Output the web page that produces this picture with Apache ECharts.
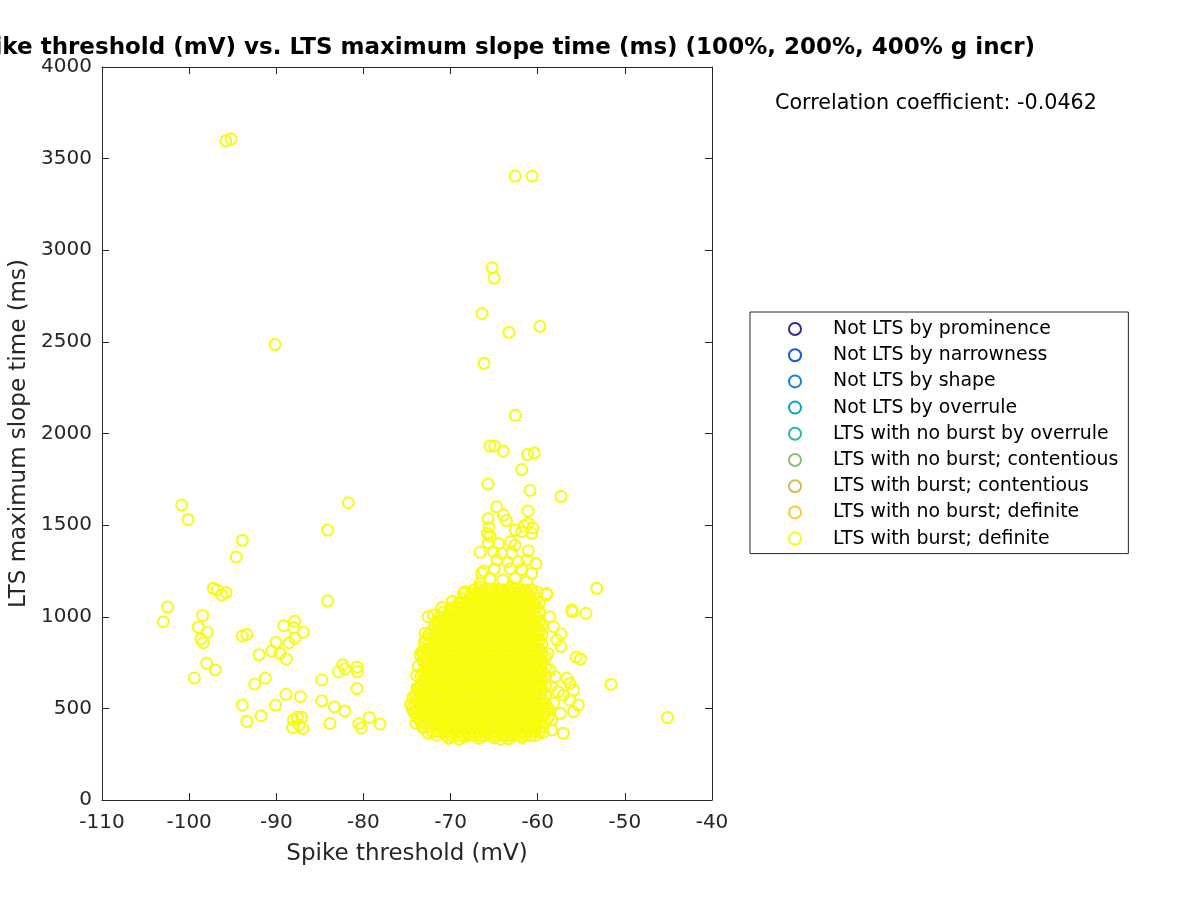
<!DOCTYPE html>
<html><head><meta charset="utf-8">
<script src="https://cdn.jsdelivr.net/npm/echarts@6/dist/echarts.min.js"></script>
<style>html,body{margin:0;padding:0;background:#fff}#c{width:1200px;height:900px}</style>
</head><body><div id="c"></div>
<script>
const titleText = 'Spike threshold (mV) vs. LTS maximum slope time (ms) (100%, 200%, 400% g incr)';
const xAxisName = 'Spike threshold (mV)';
const yAxisName = 'LTS maximum slope time (ms)';
const correlationText = 'Correlation coefficient: -0.0462';
const categoryNames = ['Not LTS by prominence','Not LTS by narrowness','Not LTS by shape','Not LTS by overrule','LTS with no burst by overrule','LTS with no burst; contentious','LTS with burst; contentious','LTS with no burst; definite','LTS with burst; definite'];
const categoryColors = ['#352A87','#0F5CDD','#1481D6','#06A4CA','#2EB7A4','#87BF77','#D1BB59','#FEC832','#F9FB0E'];
const xTickValues = [-110,-100,-90,-80,-70,-60,-50,-40];
const yTickValues = [0,500,1000,1500,2000,2500,3000,3500,4000];

// scattered points left of the main cluster
const farLeftPoints = [[-95.8,3597],[-95.2,3607],[-90.15,2485],[-100.86,1610],[-100.13,1530],[-93.9,1417],[-94.6,1326],[-97.23,1155],[-96.77,1146],[-96.27,1119],[-95.77,1133],[-81.73,1622],[-84.11,1473],[-102.47,1053],[-102.96,973],[-84.11,1087],[-98.45,1007],[-98.95,943],[-97.92,915],[-98.65,879],[-98.37,858],[-93.9,895],[-93.39,903],[-89.15,951],[-87.89,975],[-87.97,940],[-86.9,915],[-87.85,883],[-88.54,858],[-90.03,860],[-90.53,813],[-89.57,800],[-88.85,769],[-91.97,793],[-97.99,746],[-97.0,710],[-99.4,666],[-92.48,633],[-91.26,666],[-93.9,518],[-93.39,429],[-91.75,460],[-90.08,518],[-88.89,577],[-87.24,564],[-88.05,437],[-87.59,451],[-87.09,451],[-88.12,395],[-86.97,391],[-87.39,409],[-84.79,655],[-84.79,541],[-83.34,508],[-83.84,417],[-82.15,486],[-82.87,700],[-82.38,737],[-82.11,715],[-80.75,725],[-80.70,700],[-80.75,608],[-80.54,417],[-80.24,393],[-79.33,450],[-78.1,415]];

// points above the main cluster
const upperPoints = [[-62.6,3405],[-60.65,3405],[-65.24,2905],[-65.0,2848],[-66.4,2655],[-63.3,2552],[-59.75,2585],[-66.15,2383],[-62.57,2099],[-65.47,1932],[-64.94,1932],[-63.98,1904],[-61.16,1885],[-60.4,1894],[-61.84,1803],[-65.7,1724],[-60.88,1689],[-57.33,1656],[-64.71,1600],[-61.11,1577],[-65.7,1536],[-63.94,1555],[-63.6,1525],[-61.57,1495],[-60.58,1485],[-61.1,1512],[-62.57,1473],[-65.6,1490],[-65.78,1455],[-65.47,1440],[-61.84,1464],[-60.69,1455],[-65.67,1403],[-64.5,1400],[-63.1,1410],[-62.6,1391],[-66.62,1352],[-65.1,1355],[-64.14,1346],[-62.98,1346],[-61.08,1360],[-61.26,1310],[-66.2,1250],[-65.0,1260],[-63.18,1262],[-61.84,1258],[-60.69,1237],[-66.62,1182],[-65.47,1209],[-62.6,1209],[-61.26,1191],[-64.0,1200],[-63.5,1300],[-64.7,1310],[-62.2,1300],[-60.2,1290],[-68.34,1137],[-69.11,1073],[-67.39,1091],[-65.85,1109],[-64.33,1146],[-62.98,1164],[-60.12,1137],[-58.97,1127]];

// rings along the edges of the main cluster
const edgePoints = [[-71.98,1010],[-71.29,973],[-72.93,910],[-73.31,809],[-73.5,791],[-73.13,764],[-71.98,673],[-73.88,609],[-73.5,591],[-74.27,482],[-73.88,455],[-72.55,364],[-68.52,1127],[-66.42,1237],[-68.9,1073],[-70.06,1037],[-66.62,1164],[-74.6,520],[-74.3,560],[-73.9,680],[-73.7,730],[-74.0,420],[-73.2,395],[-71.6,355],[-72.6,1000],[-71.0,1050],[-69.8,1085],[-73.0,860],[-70.2,338],[-68.5,344],[-66.7,336],[-65.0,340],[-63.4,335],[-61.8,341],[-60.3,352],[-59.4,368],[-69.0,333],[-64.2,332]];

// points right of the main cluster
const rightPoints = [[-58.2,946],[-57.8,873],[-58.6,709],[-58.0,673],[-57.65,591],[-56.3,546],[-58.2,528],[-57.4,473],[-58.4,437],[-58.4,382],[-57.06,364],[-56.67,664],[-56.3,636],[-55.9,600],[-57.06,573],[-55.34,518],[-55.9,482],[-57.33,906],[-57.33,837],[-55.6,781],[-55.1,769],[-56.09,1037],[-56.03,1027],[-54.46,1019],[-53.23,1155],[-58.98,1121],[-51.59,631],[-45.12,450],[-58.6,1000],[-58.8,800],[-58.5,620]];

// dense core of the cluster: each row = [slope time, thresholds...]
const clusterRows = [
[352,-70.5,-69.9,-69.2,-68.6,-67.9,-67.3,-66.6,-66.0,-65.3,-64.7,-64.0,-63.4,-62.7,-62.1,-61.4,-60.8],
[374,-72.1,-71.5,-70.8,-70.2,-69.5,-68.9,-68.2,-67.6,-66.9,-66.3,-65.6,-65.0,-64.3,-63.7,-63.0,-62.4,-61.7,-61.1,-60.4,-59.8],
[401,-73.1,-72.5,-71.8,-71.2,-70.5,-69.9,-69.2,-68.6,-67.9,-67.3,-66.6,-66.0,-65.3,-64.7,-64.0,-63.4,-62.7,-62.1,-61.4,-60.8,-60.1,-59.5],
[423,-73.4,-72.8,-72.1,-71.5,-70.8,-70.2,-69.5,-68.9,-68.2,-67.6,-66.9,-66.3,-65.6,-65.0,-64.3,-63.7,-63.0,-62.4,-61.7,-61.1,-60.4,-59.8,-59.1],
[452,-73.8,-73.1,-72.5,-71.8,-71.2,-70.5,-69.9,-69.2,-68.6,-67.9,-67.3,-66.6,-66.0,-65.3,-64.7,-64.0,-63.4,-62.7,-62.1,-61.4,-60.8,-60.1,-59.5,-58.8],
[476,-74.1,-73.4,-72.8,-72.1,-71.5,-70.8,-70.2,-69.5,-68.9,-68.2,-67.6,-66.9,-66.3,-65.6,-65.0,-64.3,-63.7,-63.0,-62.4,-61.7,-61.1,-60.4,-59.8,-59.1],
[499,-74.4,-73.8,-73.1,-72.5,-71.8,-71.2,-70.5,-69.9,-69.2,-68.6,-67.9,-67.3,-66.6,-66.0,-65.3,-64.7,-64.0,-63.4,-62.7,-62.1,-61.4,-60.8,-60.1,-59.5,-58.8],
[527,-74.1,-73.4,-72.8,-72.1,-71.5,-70.8,-70.2,-69.5,-68.9,-68.2,-67.6,-66.9,-66.3,-65.6,-65.0,-64.3,-63.7,-63.0,-62.4,-61.7,-61.1,-60.4,-59.8,-59.1],
[548,-73.8,-73.1,-72.5,-71.8,-71.2,-70.5,-69.9,-69.2,-68.6,-67.9,-67.3,-66.6,-66.0,-65.3,-64.7,-64.0,-63.4,-62.7,-62.1,-61.4,-60.8,-60.1,-59.5],
[575,-74.0,-73.4,-72.8,-72.1,-71.5,-70.8,-70.2,-69.5,-68.9,-68.2,-67.6,-66.9,-66.3,-65.6,-65.0,-64.3,-63.7,-63.0,-62.4,-61.7,-61.1,-60.4,-59.8,-59.1],
[603,-73.8,-73.1,-72.5,-71.8,-71.2,-70.5,-69.9,-69.2,-68.6,-67.9,-67.3,-66.6,-66.0,-65.3,-64.7,-64.0,-63.4,-62.7,-62.1,-61.4,-60.8,-60.1,-59.5],
[624,-73.4,-72.8,-72.1,-71.5,-70.8,-70.2,-69.5,-68.9,-68.2,-67.6,-66.9,-66.3,-65.6,-65.0,-64.3,-63.7,-63.0,-62.4,-61.7,-61.1,-60.4,-59.8,-59.1],
[651,-73.1,-72.5,-71.8,-71.2,-70.5,-69.9,-69.2,-68.6,-67.9,-67.3,-66.6,-66.0,-65.3,-64.7,-64.0,-63.4,-62.7,-62.1,-61.4,-60.8,-60.1,-59.5],
[676,-73.4,-72.8,-72.1,-71.5,-70.8,-70.2,-69.5,-68.9,-68.2,-67.6,-66.9,-66.3,-65.6,-65.0,-64.3,-63.7,-63.0,-62.4,-61.7,-61.1,-60.4,-59.8,-59.1],
[698,-73.1,-72.5,-71.8,-71.2,-70.5,-69.9,-69.2,-68.6,-67.9,-67.3,-66.6,-66.0,-65.3,-64.7,-64.0,-63.4,-62.7,-62.1,-61.4,-60.8,-60.1,-59.5],
[726,-72.8,-72.1,-71.5,-70.8,-70.2,-69.5,-68.9,-68.2,-67.6,-66.9,-66.3,-65.6,-65.0,-64.3,-63.7,-63.0,-62.4,-61.7,-61.1,-60.4,-59.8,-59.1],
[749,-73.1,-72.5,-71.8,-71.2,-70.5,-69.9,-69.2,-68.6,-67.9,-67.3,-66.6,-66.0,-65.3,-64.7,-64.0,-63.4,-62.7,-62.1,-61.4,-60.8,-60.1,-59.5],
[777,-72.8,-72.1,-71.5,-70.8,-70.2,-69.5,-68.9,-68.2,-67.6,-66.9,-66.3,-65.6,-65.0,-64.3,-63.7,-63.0,-62.4,-61.7,-61.1,-60.4,-59.8,-59.1],
[801,-73.1,-72.5,-71.8,-71.2,-70.5,-69.9,-69.2,-68.6,-67.9,-67.3,-66.6,-66.0,-65.3,-64.7,-64.0,-63.4,-62.7,-62.1,-61.4,-60.8,-60.1,-59.5],
[823,-72.8,-72.1,-71.5,-70.8,-70.2,-69.5,-68.9,-68.2,-67.6,-66.9,-66.3,-65.6,-65.0,-64.3,-63.7,-63.0,-62.4,-61.7,-61.1,-60.4,-59.8],
[851,-72.5,-71.8,-71.2,-70.5,-69.9,-69.2,-68.6,-67.9,-67.3,-66.6,-66.0,-65.3,-64.7,-64.0,-63.4,-62.7,-62.1,-61.4,-60.8,-60.1,-59.5],
[874,-72.8,-72.1,-71.5,-70.8,-70.2,-69.5,-68.9,-68.2,-67.6,-66.9,-66.3,-65.6,-65.0,-64.3,-63.7,-63.0,-62.4,-61.7,-61.1,-60.4,-59.8],
[902,-72.5,-71.8,-71.2,-70.5,-69.9,-69.2,-68.6,-67.9,-67.3,-66.6,-66.0,-65.3,-64.7,-64.0,-63.4,-62.7,-62.1,-61.4,-60.8,-60.1,-59.5],
[924,-72.1,-71.5,-70.8,-70.2,-69.5,-68.9,-68.2,-67.6,-66.9,-66.3,-65.6,-65.0,-64.3,-63.7,-63.0,-62.4,-61.7,-61.1,-60.4,-59.8],
[951,-71.8,-71.2,-70.5,-69.9,-69.2,-68.6,-67.9,-67.3,-66.6,-66.0,-65.3,-64.7,-64.0,-63.4,-62.7,-62.1,-61.4,-60.8,-60.1,-59.5],
[976,-71.5,-70.8,-70.2,-69.5,-68.9,-68.2,-67.6,-66.9,-66.3,-65.6,-65.0,-64.3,-63.7,-63.0,-62.4,-61.7,-61.1,-60.4,-59.8],
[999,-71.2,-70.5,-69.9,-69.2,-68.6,-67.9,-67.3,-66.6,-66.0,-65.3,-64.7,-64.0,-63.4,-62.7,-62.1,-61.4,-60.8,-60.1],
[1026,-70.8,-70.2,-69.5,-68.9,-68.2,-67.6,-66.9,-66.3,-65.6,-65.0,-64.3,-63.7,-63.0,-62.4,-61.7,-61.1,-60.4,-59.8],
[1049,-69.9,-69.2,-68.6,-67.9,-67.3,-66.6,-66.0,-65.3,-64.7,-64.0,-63.4,-62.7,-62.1,-61.4,-60.8,-60.1],
[1077,-68.9,-68.2,-67.6,-66.9,-66.3,-65.6,-65.0,-64.3,-63.7,-63.0,-62.4,-61.7,-61.1,-60.4,-59.8],
[1098,-68.6,-67.9,-67.3,-66.6,-66.0,-65.3,-64.7,-64.0,-63.4,-62.7,-62.1,-61.4,-60.8,-60.1],
[1126,-67.6,-66.9,-66.3,-65.6,-65.0,-64.3,-63.7,-63.0,-62.4,-61.7,-61.1,-60.4],
[1148,-67.3,-66.6,-66.0,-65.3,-64.7,-64.0,-63.4,-62.7,-62.1,-61.4,-60.8]
];

const FONT = 'DejaVu Sans';
const clusterPoints = [];
clusterRows.forEach(r => { for (let i = 1; i < r.length; i++) clusterPoints.push([r[i], r[0]]); });
const burstDefinite = farLeftPoints.concat(upperPoints, clusterPoints, edgePoints, rightPoints);

const chart = echarts.init(document.getElementById('c'), null, {renderer: 'canvas'});
const series = categoryNames.map((name, i) => ({
  name: name,
  type: 'scatter',
  xAxisIndex: 0, yAxisIndex: 0,
  symbol: 'circle',
  symbolSize: 11,
  itemStyle: {color: 'rgba(0,0,0,0)', borderColor: categoryColors[i], borderWidth: 2, opacity: 1},
  emphasis: {disabled: true},
  large: false,
  progressive: 0,
  data: i === categoryNames.length - 1 ? burstDefinite : []
}));

const axisCommon = {
  type: 'value',
  axisLine: {show: true, onZero: false, lineStyle: {color: '#262626', width: 1}},
  axisTick: {show: true, inside: true, length: 7, lineStyle: {color: '#262626', width: 1}},
  splitLine: {show: false}
};
const plainLabel = v => String(v);

chart.setOption({
  animation: false,
  backgroundColor: '#fff',
  grid: {left: 102, right: 488, top: 67, bottom: 100, containLabel: false, outerBoundsMode: 'none'},
  xAxis: [
    Object.assign({}, axisCommon, {position: 'bottom', min: xTickValues[0], max: xTickValues[xTickValues.length-1], interval: 10,
      name: xAxisName, nameLocation: 'middle', nameGap: 43,
      nameTextStyle: {fontFamily: FONT, fontSize: 23, color: '#262626'},
      axisLabel: {show: true, margin: 13, fontFamily: FONT, fontSize: 20, color: '#262626', formatter: plainLabel}}),
    Object.assign({}, axisCommon, {position: 'top', min: xTickValues[0], max: xTickValues[xTickValues.length-1], interval: 10,
      axisLabel: {show: false}})
  ],
  yAxis: [
    Object.assign({}, axisCommon, {position: 'left', min: yTickValues[0], max: yTickValues[yTickValues.length-1], interval: 500,
      name: yAxisName, nameLocation: 'middle', nameGap: 62,
      nameTextStyle: {fontFamily: FONT, fontSize: 23, color: '#262626'},
      axisLabel: {show: true, margin: 10, fontFamily: FONT, fontSize: 20, color: '#262626', formatter: plainLabel}}),
    Object.assign({}, axisCommon, {position: 'right', min: yTickValues[0], max: yTickValues[yTickValues.length-1], interval: 500,
      axisLabel: {show: false}})
  ],
  legend: {
    orient: 'vertical',
    left: 750, top: 312,
    padding: [7.5, 10, 5.5, 38],
    itemWidth: 12, itemHeight: 14, itemGap: 7.2,
    borderColor: '#262626', borderWidth: 1,
    backgroundColor: '#fff',
    selectedMode: false,
    data: categoryNames.map((n, i) => ({name: n, icon: 'circle', itemStyle: {color: 'rgba(0,0,0,0)', borderColor: categoryColors[i], borderWidth: 2}})),
    formatter: name => '{s|}{t|' + name + '}',
    textStyle: {fontFamily: FONT, fontSize: 18.9, color: '#000', lineHeight: 14,
      rich: {s: {width: 27, lineHeight: 14}, t: {fontFamily: FONT, fontSize: 18.9, color: '#000', lineHeight: 14}}}
  },
  graphic: [
    {type: 'text', x: 1035, y: 48, silent: true,
      style: {text: titleText, font: 'bold 23px "DejaVu Sans"', fill: '#000', textAlign: 'right', textVerticalAlign: 'middle', align: 'right', verticalAlign: 'middle'}},
    {type: 'text', x: 775, y: 104, silent: true,
      style: {text: correlationText, font: '20.7px "DejaVu Sans"', fill: '#000', textAlign: 'left', textVerticalAlign: 'middle', align: 'left', verticalAlign: 'middle'}}
  ],
  series: series
});
</script>
</body></html>
